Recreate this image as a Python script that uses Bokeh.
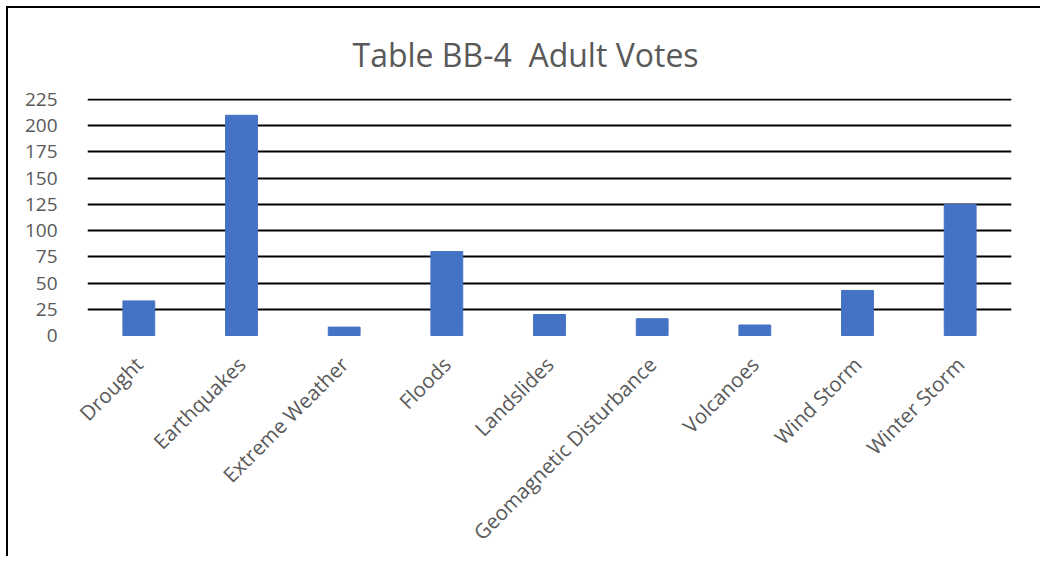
import math
from bokeh.plotting import figure
from bokeh.models import ColumnDataSource, Range1d, FixedTicker
from bokeh.embed import file_html
from bokeh.resources import INLINE

categories = ["Drought", "Earthquakes", "Extreme Weather", "Floods", "Landslides",
              "Geomagnetic Disturbance", "Volcanoes", "Wind Storm", "Winter Storm"]
votes = [33, 210, 8, 80, 20, 16, 10, 43, 125]
y_ticks = [0, 25, 50, 75, 100, 125, 150, 175, 200, 225]
title_text = "Table BB-4 \u00a0Adult Votes"

GRAY = "#595959"
FONT = "Open Sans"

source = ColumnDataSource(dict(cat=categories, votes=votes))

p = figure(x_range=categories, y_range=Range1d(0, 226),
           width=1034, height=550, output_backend="svg", toolbar_location=None,
           min_border_left=79, min_border_right=31, min_border_top=89, min_border_bottom=223)

p.vbar(x="cat", top="votes", width=0.31, source=source,
       fill_color="#4472C4", line_color="#4472C4", line_width=1, level="overlay")

p.title.text = title_text
p.title.text_font = FONT
p.title.text_font_size = "32px"
p.title.text_font_style = "normal"
p.title.text_color = GRAY
p.title.align = "left"
p.title.offset = 265
p.title.standoff = 45

p.outline_line_color = None
p.background_fill_color = "white"
p.border_fill_color = "white"

p.xgrid.grid_line_color = None
p.ygrid.grid_line_color = "black"
p.ygrid.grid_line_width = 2
p.yaxis.ticker = FixedTicker(ticks=y_ticks)

for ax in (p.xaxis, p.yaxis):
    ax.axis_line_color = None
    ax.major_tick_line_color = None
    ax.minor_tick_line_color = None
    ax.major_label_text_font = FONT
    ax.major_label_text_color = GRAY

p.yaxis.major_label_text_font_size = "19px"
p.xaxis.major_label_text_font_size = "20.5px"
p.yaxis.major_label_standoff = 24
p.xaxis.major_label_orientation = math.pi / 4
p.xaxis.major_label_standoff = 19

p.styles = {"border-left": "2px solid black", "border-top": "2px solid black",
            "margin-left": "6px", "margin-top": "6px"}

open("out.html", "w").write(file_html(p, INLINE))
